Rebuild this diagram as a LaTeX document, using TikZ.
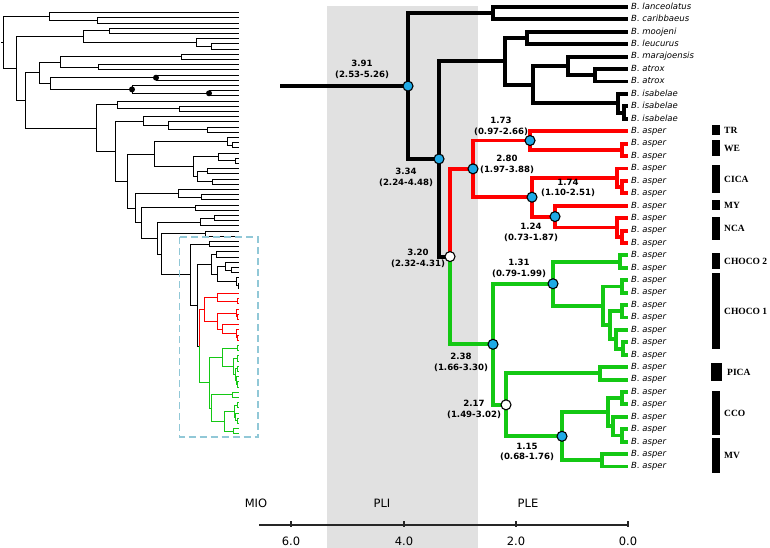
\documentclass[tikz,border=0pt]{standalone}
\usepackage{fontspec}
\setmainfont{DejaVu Sans}
\newfontfamily\tnr{Liberation Serif}
\usetikzlibrary{calc}
\definecolor{tred}{RGB}{255,0,0}
\definecolor{tgreen}{RGB}{20,200,20}
\definecolor{tcyan}{RGB}{30,170,230}
\definecolor{band}{RGB}{225,225,225}
\definecolor{boxblue}{RGB}{145,200,215}

\newcommand{\phylotree}{%
  \foreach \i in {0,...,37} {\coordinate (t\i) at (628,{7+12.42*\i});}
  \coordinate (root) at (280,86.09);
  \coordinate (n391) at (408,86.09);
  \coordinate (nlc) at (493,13.21);
  \coordinate (n334) at (439,158.96);
  \coordinate (n505) at (505,61.34);
  \coordinate (nml) at (527,38.05);
  \coordinate (n533) at (533,84.63);
  \coordinate (nmar) at (568,66.0);
  \coordinate (natx) at (595,75.31);
  \coordinate (nisa) at (618,103.26);
  \coordinate (nisi) at (624,112.57);
  \coordinate (n320) at (450,256.57);
  \coordinate (n280) at (473,168.85);
  \coordinate (n173) at (530,140.5);
  \coordinate (nwe) at (622,149.83);
  \coordinate (n174) at (532,197.19);
  \coordinate (ncica) at (617,177.78);
  \coordinate (ncicb) at (622,187.09);
  \coordinate (n124) at (555,216.59);
  \coordinate (nnca) at (617,227.46);
  \coordinate (nncb) at (622,236.77);
  \coordinate (n238) at (493,344.29);
  \coordinate (n131) at (553,283.74);
  \coordinate (nch2) at (620,261.61);
  \coordinate (nc1) at (603,305.86);
  \coordinate (nc1a) at (622,286.45);
  \coordinate (nc1b) at (610,325.27);
  \coordinate (nc1c) at (622,311.29);
  \coordinate (nc1d) at (616,339.24);
  \coordinate (nc1e) at (623,348.55);
  \coordinate (n217) at (506,404.83);
  \coordinate (npica) at (600,373.39);
  \coordinate (n115) at (562,436.27);
  \coordinate (ncco) at (608,412.2);
  \coordinate (nccoa) at (622,398.23);
  \coordinate (nccob) at (613,426.18);
  \coordinate (nccoc) at (622,435.49);
  \coordinate (nmv) at (602,460.33);
  \draw[ob] (root) -- (n391)
    (n391) |- (nlc) (n391) |- (n334)
    (nlc) |- (t0) (nlc) |- (t1)
    (n334) |- (n505) (n334) |- (n320)
    (n505) |- (nml) (n505) |- (n533)
    (nml) |- (t2) (nml) |- (t3)
    (n533) |- (nmar) (n533) |- (nisa)
    (nmar) |- (t4) (nmar) |- (natx)
    (natx) |- (t5) (natx) |- (t6)
    (nisa) |- (t7) (nisa) |- (nisi)
    (nisi) |- (t8) (nisi) |- (t9);
  \draw[rb] (n320) |- (n280)
    (n280) |- (n173) (n280) |- (n174)
    (n173) |- (t10) (n173) |- (nwe)
    (nwe) |- (t11) (nwe) |- (t12)
    (n174) |- (ncica) (n174) |- (n124)
    (ncica) |- (t13) (ncica) |- (ncicb)
    (ncicb) |- (t14) (ncicb) |- (t15)
    (n124) |- (t16) (n124) |- (nnca)
    (nnca) |- (t17) (nnca) |- (nncb)
    (nncb) |- (t18) (nncb) |- (t19);
  \draw[gb] (n320) |- (n238)
    (n238) |- (n131) (n238) |- (n217)
    (n131) |- (nch2) (n131) |- (nc1)
    (nch2) |- (t20) (nch2) |- (t21)
    (nc1) |- (nc1a) (nc1) |- (nc1b)
    (nc1a) |- (t22) (nc1a) |- (t23)
    (nc1b) |- (nc1c) (nc1b) |- (nc1d)
    (nc1c) |- (t24) (nc1c) |- (t25)
    (nc1d) |- (t26) (nc1d) |- (nc1e)
    (nc1e) |- (t27) (nc1e) |- (t28)
    (n217) |- (npica) (n217) |- (n115)
    (npica) |- (t29) (npica) |- (t30)
    (n115) |- (ncco) (n115) |- (nmv)
    (ncco) |- (nccoa) (ncco) |- (nccob)
    (nccoa) |- (t31) (nccoa) |- (t32)
    (nccob) |- (t33) (nccob) |- (nccoc)
    (nccoc) |- (t34) (nccoc) |- (t35)
    (nmv) |- (t36) (nmv) |- (t37);
}

\begin{document}
\begin{tikzpicture}[x=1pt,y=-1pt,
  ob/.style={line width=3.9pt, black},
  rb/.style={line width=3.9pt, tred},
  gb/.style={line width=3.9pt, tgreen},
  ub/.style={line width=1pt, black},
  bcirc/.style={circle, draw=black, line width=1.1pt, fill=tcyan, minimum size=10pt, inner sep=0pt},
  wcirc/.style={bcirc, fill=white},
  est/.style={font=\bfseries\fontsize{8.6}{10.8}\selectfont, align=center, inner sep=0pt},
  tip/.style={font=\itshape\fontsize{8.5}{10}\selectfont, anchor=west, inner sep=0pt, xshift=3pt, text height=6.2pt, text depth=1.6pt},
  reg/.style={font=\tnr\bfseries\fontsize{9.5}{11}\selectfont, anchor=west, inner sep=0pt},
  barn/.style={fill=black, inner sep=0pt, minimum width=8pt},
  per/.style={font=\fontsize{11.5}{13}\selectfont, inner sep=0pt},
  axisl/.style={line width=1.1pt, black!85}
]
\fill[white] (0,0) rectangle (770,548);
\useasboundingbox (0,0) rectangle (770,548);
% time band
\fill[band] (327,6) rectangle (478,548);

% ---------- thumbnail: upper part ----------
\foreach \j in {0,...,43} {\coordinate (u\j) at (239,{12.7+5.2*\j});}
\coordinate (uRs) at (1,42.6);
\coordinate (uR) at (3.3,42.6);
\coordinate (uA) at (49,16.6);
\coordinate (uA1) at (97,20.5);
\coordinate (uD) at (16.7,68.6);
\coordinate (uB) at (83,36.75);
\coordinate (uB1) at (109,30.9);
\coordinate (uB2) at (196,42.6);
\coordinate (uB3) at (211,46.5);
\coordinate (uC) at (25,100.46);
\coordinate (uC1) at (39,72.83);
\coordinate (uC1a) at (60,62.1);
\coordinate (uC1a1) at (181,56.9);
\coordinate (uC1a2) at (98,67.3);
\coordinate (uC1b) at (50,83.55);
\coordinate (uC1b1) at (156,77.7);
\coordinate (uC1c) at (132,89.4);
\coordinate (uC1c1) at (209,93.3);
\coordinate (uC2) at (96,128.09);
\coordinate (uC2a) at (117,105);
\coordinate (uC2a1) at (179,108.9);
\coordinate (uC2b) at (115,151.18);
\coordinate (uC2c) at (143,121.25);
\coordinate (uC2c1) at (168,125.8);
\coordinate (uC2c2) at (207,129.7);
\coordinate (uC2d) at (127,181.12);
\coordinate (uE) at (154,154.08);
\coordinate (uE1) at (227,141.4);
\coordinate (uE1b) at (232,145.3);
\coordinate (uE2) at (193,166.75);
\coordinate (uE2a) at (218,157);
\coordinate (uE2a1) at (235,160.9);
\coordinate (uE2b) at (197,176.5);
\coordinate (uE2b1) at (207,171.3);
\coordinate (uE2b2) at (212,181.7);
\coordinate (uF) at (135,208.15);
\coordinate (uF1) at (178,193.4);
\coordinate (uF1a) at (201,197.3);
\coordinate (uG) at (141,222.89);
\coordinate (uG1) at (195,207.7);
\coordinate (uH) at (157,238.08);
\coordinate (uH1) at (200,222);
\coordinate (uH1a) at (214,218.1);
\coordinate (uI) at (161.76,254.15);
\coordinate (uI1) at (205,233.7);

% ---------- thumbnail: lower part = main tree, scaled ----------
\begin{scope}[shift={(99.6,238.57)}, xscale=0.222, yscale=0.4187,
  ob/.style={line width=1pt, black},
  rb/.style={line width=1pt, tred},
  gb/.style={line width=1pt, tgreen}]
\phylotree
\end{scope}

\draw[ub] (uRs) -- (uR)
  (uR) |- (uA) (uR) |- (uD)
  (uA) |- (u0) (uA) |- (uA1) (uA1) |- (u1) (uA1) |- (u2)
  (uD) |- (uB) (uD) |- (uC)
  (uB) |- (uB1) (uB) |- (uB2) (uB1) |- (u3) (uB1) |- (u4)
  (uB2) |- (u5) (uB2) |- (uB3) (uB3) |- (u6) (uB3) |- (u7)
  (uC) |- (uC1) (uC) |- (uC2)
  (uC1) |- (uC1a) (uC1) |- (uC1b)
  (uC1a) |- (uC1a1) (uC1a) |- (uC1a2)
  (uC1a1) |- (u8) (uC1a1) |- (u9) (uC1a2) |- (u10) (uC1a2) |- (u11)
  (uC1b) |- (uC1b1) (uC1b) |- (uC1c)
  (uC1b1) |- (u12) (uC1b1) |- (u13)
  (uC1c) |- (u14) (uC1c) |- (uC1c1) (uC1c1) |- (u15) (uC1c1) |- (u16)
  (uC2) |- (uC2a) (uC2) |- (uC2b)
  (uC2a) |- (u17) (uC2a) |- (uC2a1) (uC2a1) |- (u18) (uC2a1) |- (u19)
  (uC2b) |- (uC2c) (uC2b) |- (uC2d)
  (uC2c) |- (u20) (uC2c) |- (uC2c1) (uC2c1) |- (u21) (uC2c1) |- (uC2c2)
  (uC2c2) |- (u22) (uC2c2) |- (u23)
  (uC2d) |- (uE) (uC2d) |- (uF)
  (uE) |- (uE1) (uE) |- (uE2)
  (uE1) |- (u24) (uE1) |- (uE1b) (uE1b) |- (u25) (uE1b) |- (u26)
  (uE2) |- (uE2a) (uE2) |- (uE2b)
  (uE2a) |- (u27) (uE2a) |- (uE2a1) (uE2a1) |- (u28) (uE2a1) |- (u29)
  (uE2b) |- (uE2b1) (uE2b) |- (uE2b2)
  (uE2b1) |- (u30) (uE2b1) |- (u31) (uE2b2) |- (u32) (uE2b2) |- (u33)
  (uF) |- (uF1) (uF) |- (uG)
  (uF1) |- (u34) (uF1) |- (uF1a) (uF1a) |- (u35) (uF1a) |- (u36)
  (uG) |- (uG1) (uG) |- (uH) (uG1) |- (u37) (uG1) |- (u38)
  (uH) |- (uH1) (uH) |- (uI)
  (uH1) |- (uH1a) (uH1) |- (u41) (uH1a) |- (u39) (uH1a) |- (u40)
  (uI) |- (uI1) (uI) |- (root) (uI1) |- (u42) (uI1) |- (u43);
\fill (uC1b1) circle (3pt) (uC1c) circle (3pt) (uC1c1) circle (3pt);
\draw[boxblue, line width=1.4pt, dash pattern=on 7pt off 4pt] (179.5,237) rectangle (258,437);

% ---------- main tree ----------
\phylotree

\node[bcirc] (c391) at (n391) {};
\node[bcirc] (c334) at (n334) {};
\node[wcirc] (c320) at (n320) {};
\node[bcirc] (c280) at (n280) {};
\node[bcirc] (c173) at (n173) {};
\node[bcirc] (c174) at (n174) {};
\node[bcirc] (c124) at (n124) {};
\node[bcirc] (c238) at (n238) {};
\node[bcirc] (c131) at (n131) {};
\node[wcirc] (c217) at (n217) {};
\node[bcirc] (c115) at (n115) {};

\node[est] (l391) at (362,69) {3.91\\(2.53-5.26)};
\node[est] (l334) at (406,177) {3.34\\(2.24-4.48)};
\node[est] (l320) at (418,258.5) {3.20\\(2.32-4.31)};
\node[est] (l280) at (507,164) {2.80\\(1.97-3.88)};
\node[est] (l173) at (501,126) {1.73\\(0.97-2.66)};
\node[est] (l174) at (568,188) {1.74\\(1.10-2.51)};
\node[est] (l124) at (531,232) {1.24\\(0.73-1.87)};
\node[est] (l131) at (519,268) {1.31\\(0.79-1.99)};
\node[est] (l238) at (461,362) {2.38\\(1.66-3.30)};
\node[est] (l217) at (474,409.5) {2.17\\(1.49-3.02)};
\node[est] (l115) at (527,452) {1.15\\(0.68-1.76)};

\foreach \i/\nm in {0/lanceolatus,1/caribbaeus,2/moojeni,3/leucurus,4/marajoensis,5/atrox,6/atrox,7/isabelae,8/isabelae,9/isabelae}
  {\node[tip] (lab\i) at (t\i) {B. \nm};}
\foreach \i in {10,...,37} {\node[tip] (lab\i) at (t\i) {B. asper};}

% ---------- region bars ----------
\foreach \nm/\yc/\h/\lab in {TR/130/10/TR, WE/148/16/WE, CICA/179/28/CICA, MY/205/10/MY, NCA/228.5/23/NCA, CHb/261/16/CHOCO 2, CHa/311/76/CHOCO 1, CCO/413/44/CCO, MV/455.5/35/MV}
  {\node[barn, minimum height=\h pt] (bar\nm) at (716,\yc) {};
   \node[reg] (reg\nm) at (724,\yc) {\lab};}
\node[barn, minimum width=11pt, minimum height=18pt] (barPICA) at (716.5,372) {};
\node[reg] (regPICA) at (727,372) {PICA};

% ---------- time axis ----------
\node[per] (mio) at (256,503) {MIO};
\node[per] (pli) at (382,503) {PLI};
\node[per] (ple) at (528,503) {PLE};
\coordinate (ax0) at (259,525);
\coordinate (ax1) at (629,525);
\draw[axisl] (ax0) -- (ax1);
\foreach \x/\l in {291/6.0, 404/4.0, 516/2.0, 628/0.0}
  {\coordinate (tk\x) at (\x,521);
   \draw[axisl] (tk\x) -- ++(0,6);
   \node[per] (tl\x) at (\x,541) {\l};}
\end{tikzpicture}
\end{document}
